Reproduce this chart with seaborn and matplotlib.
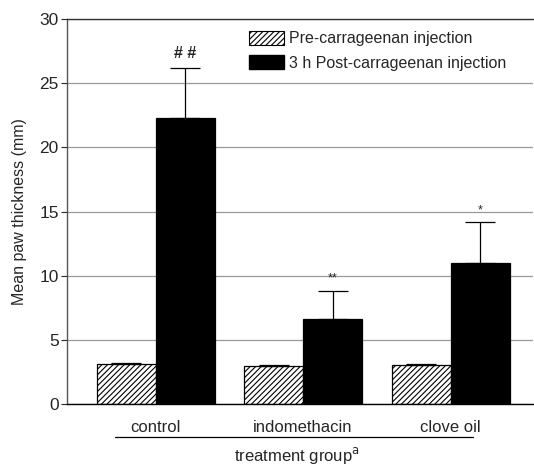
import numpy as np
import pandas as pd
import matplotlib
matplotlib.use("Agg")
import matplotlib.pyplot as plt
import seaborn as sns
from matplotlib.patches import Patch

# data
groups = ["control", "indomethacin", "clove oil"]
phases = ["Pre-carrageenan injection", "3 h Post-carrageenan injection"]
pre_mean = [3.1, 2.95, 3.0]
pre_err = [0.1, 0.12, 0.12]
post_mean = [22.3, 6.6, 11.0]
post_err = [3.9, 2.2, 3.15]
marks = ["# #", "**", "*"]

df = pd.DataFrame({
    "group": groups * 2,
    "phase": [phases[0]] * 3 + [phases[1]] * 3,
    "value": pre_mean + post_mean,
})

sns.set_style("white")
plt.rcParams['font.family'] = ['Liberation Sans', 'DejaVu Sans']
plt.rcParams['hatch.color'] = '#555555'
plt.rcParams['hatch.linewidth'] = 0.8

fig = plt.figure(figsize=(5.34, 4.65), dpi=100)
ax = fig.add_axes([0.1255, 0.1312, 0.873, 0.8278])

sns.barplot(data=df, x="group", y="value", hue="phase", order=groups,
            hue_order=phases, palette=["white", "black"], edgecolor="black",
            linewidth=0.9, width=0.8, errorbar=None, ax=ax, legend=False)

for p in ax.containers[0]:
    p.set_hatch("//////")

# upward-only error bars
for cont, errs in zip(ax.containers, [pre_err, post_err]):
    for p, e in zip(cont, errs):
        xc = p.get_x() + p.get_width() / 2
        top = p.get_height()
        ax.errorbar(xc, top, yerr=[[0], [e]], fmt="none", ecolor="black",
                    elinewidth=0.9, capsize=11, capthick=0.9, zorder=3)

# significance marks
for p, e, m in zip(ax.containers[1], post_err, marks):
    xc = p.get_x() + p.get_width() / 2
    top = p.get_height() + e
    ax.text(xc, top + 0.5, m, ha="center", va="bottom",
            fontsize=11.5 if m.startswith("#") else 9, fontweight="bold" if m.startswith("#") else "normal")

ax.set_ylim(0, 30)
ax.set_xlim(-0.6, 2.56)
ax.set_yticks([0, 5, 10, 15, 20, 25, 30])
ax.yaxis.grid(True, color="#999999", linewidth=0.9)
ax.set_axisbelow(True)
ax.tick_params(axis="y", which="both", left=True, length=4, width=0.8, labelsize=12.5, pad=2)
ax.tick_params(axis="x", bottom=False, labelsize=12, pad=8)
ax.set_xlabel("")
ax.set_ylabel("Mean paw thickness (mm)", fontsize=11.5, labelpad=9)

ax.spines["right"].set_visible(False)
ax.spines["top"].set_color("#333333")
ax.spines["left"].set_color("#555555")
ax.spines["bottom"].set_color("black")
for s in ["top", "left", "bottom"]:
    ax.spines[s].set_linewidth(1.0)

handles = [Patch(facecolor="white", edgecolor="black", hatch="//////", linewidth=0.8),
           Patch(facecolor="black", edgecolor="black")]
ax.legend(handles, phases, loc="upper left", bbox_to_anchor=(0.37, 0.995),
          frameon=False, fontsize=11.5, handlelength=2.2, handleheight=1.0,
          handletextpad=0.3, labelspacing=0.55, borderaxespad=0.2)

# bracket line and x title under the categories
fig.add_artist(plt.Line2D([115 / 534, 473 / 534], [1 - 437 / 465, 1 - 437 / 465],
                          color="black", linewidth=0.9))
fig.text(297 / 534, 1 - 455 / 465, "treatment group$^{\\mathrm{a}}$", ha="center",
         va="center", fontsize=12)

fig.savefig("out.png", dpi=100)
